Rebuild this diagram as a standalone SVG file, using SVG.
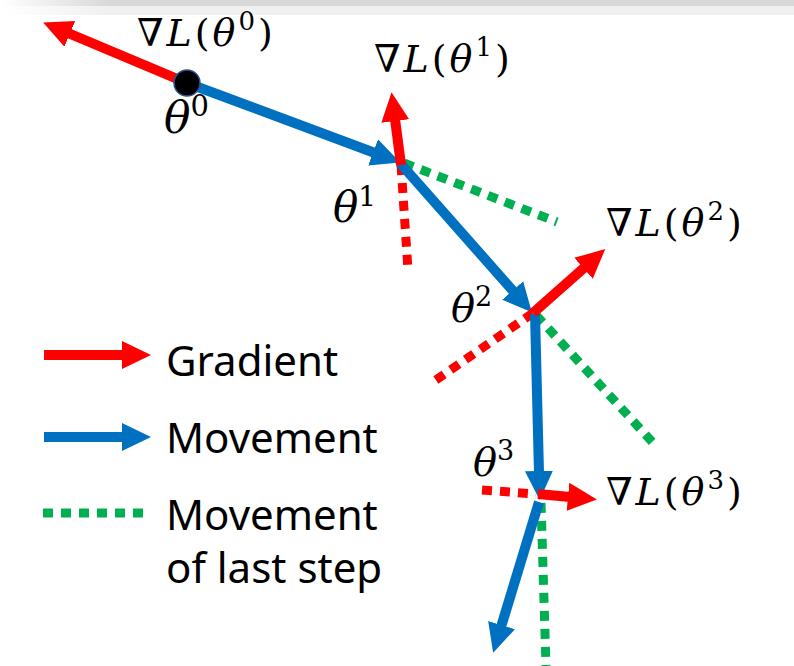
<svg xmlns="http://www.w3.org/2000/svg" width="794" height="666" viewBox="0 0 794 666">
<style>
.red{stroke:#FF0000;stroke-width:10;fill:none}
.blue{stroke:#0070C0;stroke-width:10;fill:none}
.rdot{stroke:#FF0000;stroke-width:9;stroke-dasharray:10 8;fill:none}
.gdot{stroke:#00B050;stroke-width:9;stroke-dasharray:10 8;fill:none}
.ar{marker-end:url(#hr)}
.ab{marker-end:url(#hb)}
.math{font-family:"DejaVu Serif","Liberation Serif",serif;fill:#000}
.mi{font-style:italic}
.grad{font-size:38px;letter-spacing:3px}
.leg{font-family:"Noto Sans","Liberation Sans",sans-serif;font-size:42px;fill:#000}
</style>
<defs>
<marker id="hr" viewBox="0 0 30 30" markerUnits="userSpaceOnUse" markerWidth="30" markerHeight="30" refX="2" refY="15" orient="auto"><path d="M0,1 L29,15 L0,29 z" fill="#FF0000"/></marker>
<marker id="hb" viewBox="0 0 30 30" markerUnits="userSpaceOnUse" markerWidth="30" markerHeight="30" refX="2" refY="15" orient="auto"><path d="M0,1 L29,15 L0,29 z" fill="#0070C0"/></marker>
<linearGradient id="fade" x1="0" y1="0" x2="1" y2="0">
<stop offset="0" stop-color="#d8d8d8" stop-opacity="0"/>
<stop offset="0.14" stop-color="#d8d8d8" stop-opacity="1"/>
<stop offset="1" stop-color="#d8d8d8" stop-opacity="1"/>
</linearGradient>
<linearGradient id="fade2" x1="0" y1="0" x2="1" y2="0">
<stop offset="0" stop-color="#f0f0f0" stop-opacity="0"/>
<stop offset="0.14" stop-color="#f0f0f0" stop-opacity="1"/>
<stop offset="1" stop-color="#f0f0f0" stop-opacity="1"/>
</linearGradient>
</defs>
<rect width="794" height="666" fill="#fff"/>
<rect x="0" y="0" width="794" height="6" fill="url(#fade)"/>
<rect x="0" y="6" width="794" height="9" fill="url(#fade2)"/>

<g id="connectors">
<line class="red ar" x1="187" y1="83" x2="68" y2="33"/>
<line class="blue ab" x1="187" y1="83" x2="375" y2="153"/>
<line class="rdot" x1="401" y1="165" x2="408" y2="270"/>
<line class="gdot" x1="404" y1="163" x2="557" y2="222"/>
<line class="blue ab" x1="400" y1="163" x2="514" y2="292"/>
<line class="red ar" x1="401" y1="165" x2="395" y2="119"/>
<line class="rdot" x1="533" y1="313" x2="433" y2="382"/>
<line class="gdot" x1="536" y1="315" x2="655" y2="445"/>
<line class="blue ab" x1="535" y1="314" x2="539" y2="473"/>
<line class="red ar" x1="533" y1="313" x2="585" y2="267"/>
<line class="rdot" x1="482" y1="490" x2="536" y2="494"/>
<line class="gdot" x1="541" y1="503" x2="546" y2="666"/>
<line class="red ar" x1="538" y1="494" x2="570" y2="497"/>
<line class="blue ab" x1="539" y1="502" x2="501" y2="627"/>
</g>

<g id="theta0">
<circle cx="187" cy="83" r="13" fill="#000" stroke="#2F528F" stroke-width="1.5"/>
<text class="math" x="164" y="133" font-size="44"><tspan class="mi">θ</tspan><tspan font-size="29" dy="-17">0</tspan></text>
<text class="math grad" x="137" y="46"><tspan class="mi">∇L</tspan>(<tspan class="mi">θ</tspan><tspan font-size="26" dy="-16">0</tspan><tspan dy="16">)</tspan></text>
</g>
<g id="theta1">
<text class="math" x="333" y="222" font-size="42"><tspan class="mi">θ</tspan><tspan font-size="28" dy="-16">1</tspan></text>
<text class="math grad" x="374" y="72"><tspan class="mi">∇L</tspan>(<tspan class="mi">θ</tspan><tspan font-size="26" dy="-16">1</tspan><tspan dy="16">)</tspan></text>
</g>
<g id="theta2">
<text class="math" x="451" y="322" font-size="40"><tspan class="mi">θ</tspan><tspan font-size="27" dy="-16">2</tspan></text>
<text class="math grad" x="606" y="236"><tspan class="mi">∇L</tspan>(<tspan class="mi">θ</tspan><tspan font-size="26" dy="-16">2</tspan><tspan dy="16">)</tspan></text>
</g>
<g id="theta3">
<text class="math" x="473" y="476" font-size="40"><tspan class="mi">θ</tspan><tspan font-size="27" dy="-16">3</tspan></text>
<text class="math grad" x="606" y="505"><tspan class="mi">∇L</tspan>(<tspan class="mi">θ</tspan><tspan font-size="26" dy="-16">3</tspan><tspan dy="16">)</tspan></text>
</g>

<g id="legend">
<line class="red ar" x1="44" y1="355" x2="124" y2="355"/>
<text class="leg" x="166" y="376">Gradient</text>
<line class="blue ab" x1="44" y1="437" x2="124" y2="437"/>
<text class="leg" x="166" y="453">Movement</text>
<line class="gdot" x1="43" y1="513" x2="148" y2="513"/>
<text class="leg" x="166" y="530">Movement</text>
<text class="leg" x="166" y="583">of last step</text>
</g>
</svg>
